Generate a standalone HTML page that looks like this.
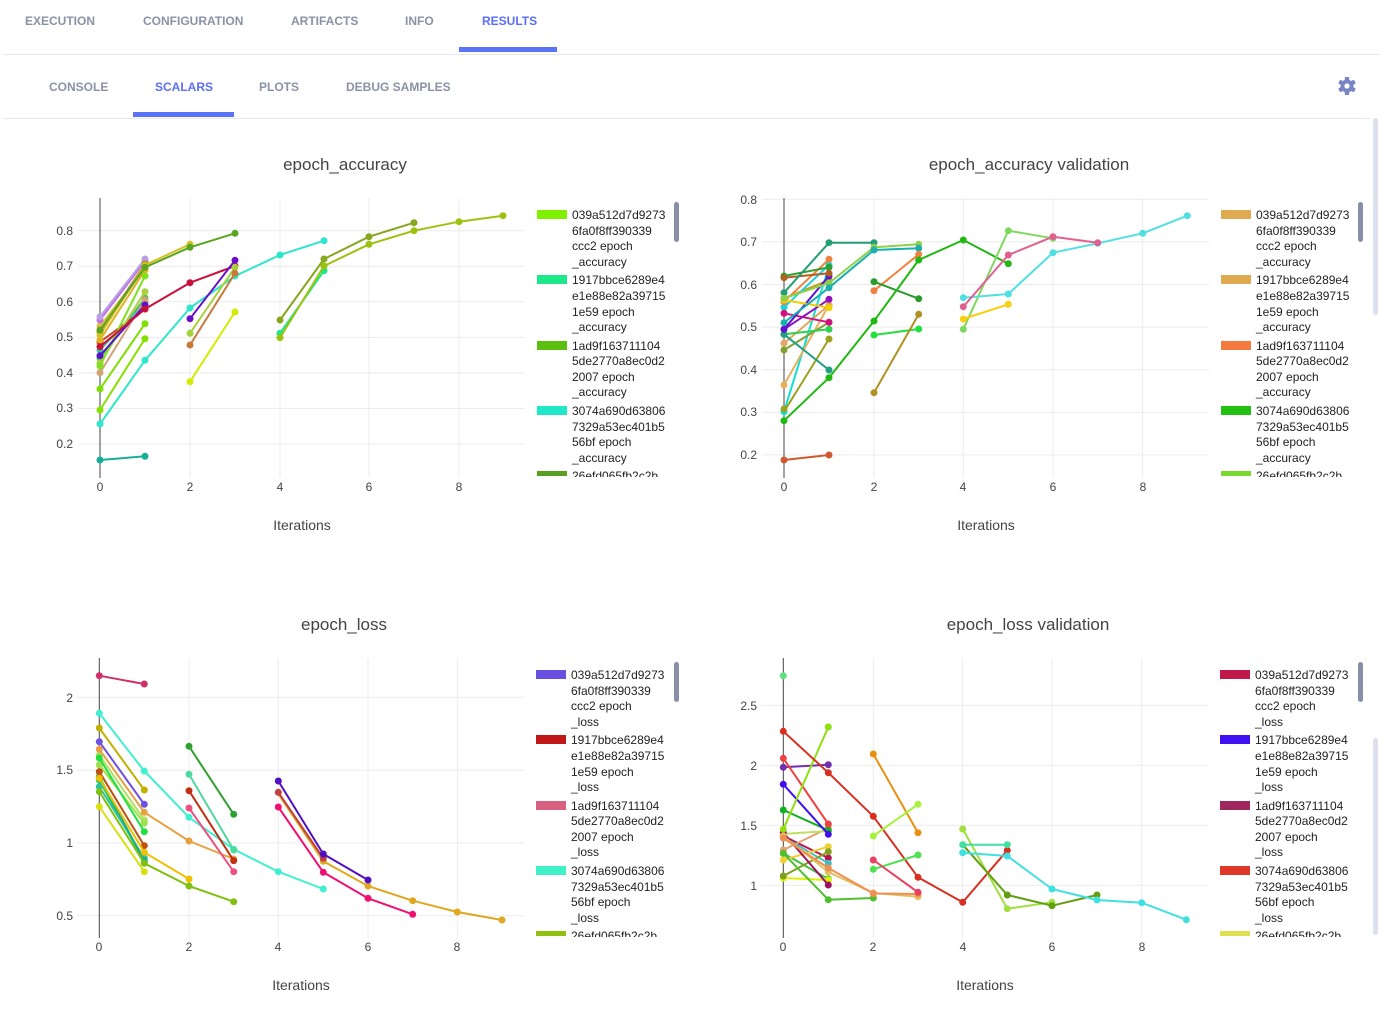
<!DOCTYPE html>
<html><head><meta charset="utf-8"><style>
html,body{margin:0;padding:0;background:#fff;width:1383px;height:1032px;overflow:hidden}
svg{display:block}
.nav{font-family:"Liberation Sans",Arial,sans-serif;font-weight:bold;font-size:12px;fill:#8a92a6}
.nav.a{fill:#5b6ef5}
.t{font-family:"Liberation Sans",Arial,sans-serif;fill:#444}
.tk{font-size:12px}
.lg{font-family:"Liberation Sans",Arial,sans-serif;font-size:12px;fill:#222}
.s polyline{fill:none;stroke-width:2;stroke-linejoin:round}
.s circle{stroke:none}
.g{stroke:#ececec;stroke-width:1}
</style></head><body>
<svg width="1383" height="1032" viewBox="0 0 1383 1032" xmlns="http://www.w3.org/2000/svg">
<!-- nav -->
<text class="nav" x="25" y="25">EXECUTION</text>
<text class="nav" x="143" y="25">CONFIGURATION</text>
<text class="nav" x="291" y="25">ARTIFACTS</text>
<text class="nav" x="405" y="25">INFO</text>
<text class="nav a" x="482" y="25">RESULTS</text>
<rect x="459" y="47" width="98" height="5" fill="#5a74f8"/>
<rect x="3" y="54" width="1377" height="1" fill="#e8e8ec"/>
<text class="nav" x="49" y="91">CONSOLE</text>
<text class="nav a" x="155" y="91">SCALARS</text>
<text class="nav" x="259" y="91">PLOTS</text>
<text class="nav" x="346" y="91">DEBUG SAMPLES</text>
<rect x="133" y="112" width="101" height="5" fill="#5a74f8"/>
<rect x="3" y="118" width="1368" height="1" fill="#e8e8ec"/>
<!-- gear -->
<g transform="translate(1347,86)" fill="#7884c4">
<circle r="6.5"/>
<rect x="-2.2" y="-9" width="4.4" height="18" rx="0.8"/>
<rect x="-2.2" y="-9" width="4.4" height="18" rx="0.8" transform="rotate(60)"/>
<rect x="-2.2" y="-9" width="4.4" height="18" rx="0.8" transform="rotate(120)"/>
<circle r="2.6" fill="#fff"/>
</g>
<!-- page scrollbars -->
<rect x="1373" y="118" width="5" height="197" rx="2.5" fill="#dde0ee"/>
<rect x="1373" y="738" width="5" height="197" rx="2.5" fill="#dde0ee"/>

<!-- ================= CHART 1 ================= -->
<text class="t" x="345" y="170" font-size="17" text-anchor="middle">epoch_accuracy</text>
<g class="g">
<line x1="78" y1="230.7" x2="525" y2="230.7"/><line x1="78" y1="266.2" x2="525" y2="266.2"/><line x1="78" y1="301.8" x2="525" y2="301.8"/><line x1="78" y1="337.4" x2="525" y2="337.4"/><line x1="78" y1="372.9" x2="525" y2="372.9"/><line x1="78" y1="408.5" x2="525" y2="408.5"/><line x1="78" y1="444" x2="525" y2="444"/>
<line x1="190" y1="198" x2="190" y2="478"/><line x1="280" y1="198" x2="280" y2="478"/><line x1="369" y1="198" x2="369" y2="478"/><line x1="459" y1="198" x2="459" y2="478"/>
</g>
<line x1="100" y1="198" x2="100" y2="478" stroke="#444" stroke-width="1"/>
<g class="t tk" text-anchor="end">
<text x="73" y="235">0.8</text><text x="73" y="270">0.7</text><text x="73" y="306">0.6</text><text x="73" y="341">0.5</text><text x="73" y="377">0.4</text><text x="73" y="412">0.3</text><text x="73" y="448">0.2</text>
</g>
<g class="t tk" text-anchor="middle">
<text x="100" y="491">0</text><text x="190" y="491">2</text><text x="280" y="491">4</text><text x="369" y="491">6</text><text x="459" y="491">8</text>
</g>
<text class="t" x="302" y="530" font-size="14" text-anchor="middle">Iterations</text>
<g class="s" stroke="#e0c040" fill="#e0c040"><polyline points="100,326 145,268"/><circle cx="100" cy="326" r="3.5"/><circle cx="145" cy="268" r="3.5"/></g>
<g class="s" stroke="#50c050" fill="#50c050"><polyline points="100,358 145,298"/><circle cx="100" cy="358" r="3.5"/><circle cx="145" cy="298" r="3.5"/></g>
<g class="s" stroke="#40c0a0" fill="#40c0a0"><polyline points="100,350 145,302"/><circle cx="100" cy="350" r="3.5"/><circle cx="145" cy="302" r="3.5"/></g>
<g class="s" stroke="#d04020" fill="#d04020"><polyline points="100,342 145,309"/><circle cx="100" cy="342" r="3.5"/><circle cx="145" cy="309" r="3.5"/></g>
<g class="s" stroke="#e0b020" fill="#e0b020"><polyline points="100,340 145,270"/><circle cx="100" cy="340" r="3.5"/><circle cx="145" cy="270" r="3.5"/></g>
<g class="s" stroke="#c070e0" fill="#c070e0"><polyline points="100,320 145,261"/><circle cx="100" cy="320" r="3.5"/><circle cx="145" cy="261" r="3.5"/></g>
<g class="s" stroke="#b9a0e6" fill="#b9a0e6"><polyline points="100,316.7 145,259"/><circle cx="100" cy="316.7" r="3.5"/><circle cx="145" cy="259" r="3.5"/></g>
<g class="s" stroke="#a8d040" fill="#a8d040"><polyline points="100,363 145,291.7"/><circle cx="100" cy="363" r="3.5"/><circle cx="145" cy="291.7" r="3.5"/></g>
<g class="s" stroke="#d4a373" fill="#d4a373"><polyline points="100,372.7 145,300"/><circle cx="100" cy="372.7" r="3.5"/><circle cx="145" cy="300" r="3.5"/></g>
<g class="s" stroke="#80e020" fill="#80e020"><polyline points="100,366 145,276"/><circle cx="100" cy="366" r="3.5"/><circle cx="145" cy="276" r="3.5"/></g>
<g class="s" stroke="#a8781e" fill="#a8781e"><polyline points="100,331.7 145,264"/><circle cx="100" cy="331.7" r="3.5"/><circle cx="145" cy="264" r="3.5"/></g>
<g class="s" stroke="#7de000" fill="#7de000"><polyline points="100,389 145,323.7"/><circle cx="100" cy="389" r="3.5"/><circle cx="145" cy="323.7" r="3.5"/></g>
<g class="s" stroke="#86e000" fill="#86e000"><polyline points="100,410 145,338.7"/><circle cx="100" cy="410" r="3.5"/><circle cx="145" cy="338.7" r="3.5"/></g>
<g class="s" stroke="#5a10d0" fill="#5a10d0"><polyline points="100,355.7 145,305"/><circle cx="100" cy="355.7" r="3.5"/><circle cx="145" cy="305" r="3.5"/></g>
<g class="s" stroke="#17ae98" fill="#17ae98"><polyline points="100,460 145,456.3"/><circle cx="100" cy="460" r="3.5"/><circle cx="145" cy="456.3" r="3.5"/></g>
<g class="s" stroke="#d4c020" fill="#d4c020"><polyline points="100,335 145,265 190,244.3"/><circle cx="100" cy="335" r="3.5"/><circle cx="145" cy="265" r="3.5"/><circle cx="190" cy="244.3" r="3.5"/></g>
<g class="s" stroke="#5aa620" fill="#5aa620"><polyline points="100,330 145,267.3 190,247.3 235,233.3"/><circle cx="100" cy="330" r="3.5"/><circle cx="145" cy="267.3" r="3.5"/><circle cx="190" cy="247.3" r="3.5"/><circle cx="235" cy="233.3" r="3.5"/></g>
<g class="s" stroke="#c8103c" fill="#c8103c"><polyline points="100,346.7 145,309 190,282.7 235,266"/><circle cx="100" cy="346.7" r="3.5"/><circle cx="145" cy="309" r="3.5"/><circle cx="190" cy="282.7" r="3.5"/><circle cx="235" cy="266" r="3.5"/></g>
<g class="s" stroke="#2ee6cc" fill="#2ee6cc"><polyline points="100,424 145,360.3 190,308 235,276 280,255 324,240.7"/><circle cx="100" cy="424" r="3.5"/><circle cx="145" cy="360.3" r="3.5"/><circle cx="190" cy="308" r="3.5"/><circle cx="235" cy="276" r="3.5"/><circle cx="280" cy="255" r="3.5"/><circle cx="324" cy="240.7" r="3.5"/></g>
<g class="s" stroke="#6a0dc8" fill="#6a0dc8"><polyline points="190,318.7 235,260.3"/><circle cx="190" cy="318.7" r="3.5"/><circle cx="235" cy="260.3" r="3.5"/></g>
<g class="s" stroke="#a6d13a" fill="#a6d13a"><polyline points="190,333.3 235,267.3"/><circle cx="190" cy="333.3" r="3.5"/><circle cx="235" cy="267.3" r="3.5"/></g>
<g class="s" stroke="#c87a3c" fill="#c87a3c"><polyline points="190,345 235,273.3"/><circle cx="190" cy="345" r="3.5"/><circle cx="235" cy="273.3" r="3.5"/></g>
<g class="s" stroke="#d4ea00" fill="#d4ea00"><polyline points="190,381.7 235,312"/><circle cx="190" cy="381.7" r="3.5"/><circle cx="235" cy="312" r="3.5"/></g>
<g class="s" stroke="#88a620" fill="#88a620"><polyline points="280,320 324,259 369,236.7 414,222.7"/><circle cx="280" cy="320" r="3.5"/><circle cx="324" cy="259" r="3.5"/><circle cx="369" cy="236.7" r="3.5"/><circle cx="414" cy="222.7" r="3.5"/></g>
<g class="s" stroke="#1de887" fill="#1de887"><polyline points="280,333.3 324,270.7"/><circle cx="280" cy="333.3" r="3.5"/><circle cx="324" cy="270.7" r="3.5"/></g>
<g class="s" stroke="#9dc10f" fill="#9dc10f"><polyline points="280,337.7 324,266 369,244.3 414,230.7 459,221.7 503,215.7"/><circle cx="280" cy="337.7" r="3.5"/><circle cx="324" cy="266" r="3.5"/><circle cx="369" cy="244.3" r="3.5"/><circle cx="414" cy="230.7" r="3.5"/><circle cx="459" cy="221.7" r="3.5"/><circle cx="503" cy="215.7" r="3.5"/></g>
<!-- legend 1 -->
<g>
<rect x="537" y="210" width="30" height="9" fill="#7ff000"/>
<text class="lg" x="572" y="219">039a512d7d9273</text><text class="lg" x="572" y="235">6fa0f8ff390339</text><text class="lg" x="572" y="250">ccc2 epoch</text><text class="lg" x="572" y="266">_accuracy</text>
<rect x="537" y="275" width="30" height="9" fill="#1de88a"/>
<text class="lg" x="572" y="284">1917bbce6289e4</text><text class="lg" x="572" y="300">e1e88e82a39715</text><text class="lg" x="572" y="316">1e59 epoch</text><text class="lg" x="572" y="331">_accuracy</text>
<rect x="537" y="341" width="30" height="9" fill="#5cbf10"/>
<text class="lg" x="572" y="350">1ad9f163711104</text><text class="lg" x="572" y="365">5de2770a8ec0d2</text><text class="lg" x="572" y="381">2007 epoch</text><text class="lg" x="572" y="396">_accuracy</text>
<rect x="537" y="406" width="30" height="9" fill="#1ee8c8"/>
<text class="lg" x="572" y="415">3074a690d63806</text><text class="lg" x="572" y="431">7329a53ec401b5</text><text class="lg" x="572" y="446">56bf epoch</text><text class="lg" x="572" y="462">_accuracy</text>
<rect x="537" y="471" width="30" height="5" fill="#5aa020"/>
<text class="lg" x="572" y="480" clip-path="inset(0 0 6px 0)">26efd065fb2c2b</text>
<rect x="530" y="477" width="150" height="10" fill="#fff"/>
</g>
<rect x="674" y="202" width="5" height="40" rx="2.5" fill="#8790a8"/>

<!-- ================= CHART 2 ================= -->
<text class="t" x="1029" y="170" font-size="17" text-anchor="middle">epoch_accuracy validation</text>
<g class="g">
<line x1="762" y1="199.3" x2="1209" y2="199.3"/><line x1="762" y1="241.9" x2="1209" y2="241.9"/><line x1="762" y1="284.5" x2="1209" y2="284.5"/><line x1="762" y1="327.1" x2="1209" y2="327.1"/><line x1="762" y1="369.7" x2="1209" y2="369.7"/><line x1="762" y1="412.3" x2="1209" y2="412.3"/><line x1="762" y1="454.9" x2="1209" y2="454.9"/>
<line x1="874" y1="198" x2="874" y2="478"/><line x1="963.3" y1="198" x2="963.3" y2="478"/><line x1="1053" y1="198" x2="1053" y2="478"/><line x1="1142.7" y1="198" x2="1142.7" y2="478"/>
</g>
<line x1="784" y1="198" x2="784" y2="478" stroke="#444" stroke-width="1"/>
<g class="t tk" text-anchor="end">
<text x="757" y="204">0.8</text><text x="757" y="246">0.7</text><text x="757" y="289">0.6</text><text x="757" y="331">0.5</text><text x="757" y="374">0.4</text><text x="757" y="416">0.3</text><text x="757" y="459">0.2</text>
</g>
<g class="t tk" text-anchor="middle">
<text x="784" y="491">0</text><text x="874" y="491">2</text><text x="963" y="491">4</text><text x="1053" y="491">6</text><text x="1143" y="491">8</text>
</g>
<text class="t" x="986" y="530" font-size="14" text-anchor="middle">Iterations</text>
<g class="s" stroke="#c0a020" fill="#c0a020"><polyline points="784,298.3 829,280"/><circle cx="784" cy="298.3" r="3.5"/><circle cx="829" cy="280" r="3.5"/></g>
<g class="s" stroke="#20d0e0" fill="#20d0e0"><polyline points="784,307.3 829,265"/><circle cx="784" cy="307.3" r="3.5"/><circle cx="829" cy="265" r="3.5"/></g>
<g class="s" stroke="#10e0d0" fill="#10e0d0"><polyline points="784,411.7 829,266"/><circle cx="784" cy="411.7" r="3.5"/><circle cx="829" cy="266" r="3.5"/></g>
<g class="s" stroke="#a0a020" fill="#a0a020"><polyline points="784,411.7 829,339"/><circle cx="784" cy="409" r="3.5"/><circle cx="829" cy="339" r="3.5"/></g>
<g class="s" stroke="#e8b060" fill="#e8b060"><polyline points="784,385 829,305"/><circle cx="784" cy="385" r="3.5"/><circle cx="829" cy="305" r="3.5"/></g>
<g class="s" stroke="#e0a860" fill="#e0a860"><polyline points="784,343.3 829,305"/><circle cx="784" cy="343.3" r="3.5"/><circle cx="829" cy="305" r="3.5"/></g>
<g class="s" stroke="#80a030" fill="#80a030"><polyline points="784,350 829,322.3"/><circle cx="784" cy="350" r="3.5"/><circle cx="829" cy="322.3" r="3.5"/></g>
<g class="s" stroke="#30d050" fill="#30d050"><polyline points="784,334.3 829,329.3"/><circle cx="784" cy="334.3" r="3.5"/><circle cx="829" cy="329.3" r="3.5"/></g>
<g class="s" stroke="#20a080" fill="#20a080"><polyline points="784,334.3 829,370"/><circle cx="784" cy="334.3" r="3.5"/><circle cx="829" cy="370" r="3.5"/></g>
<g class="s" stroke="#d01080" fill="#d01080"><polyline points="784,313.3 829,322.3"/><circle cx="784" cy="313.3" r="3.5"/><circle cx="829" cy="322.3" r="3.5"/></g>
<g class="s" stroke="#9010c0" fill="#9010c0"><polyline points="784,329.3 829,299.3"/><circle cx="784" cy="329.3" r="3.5"/><circle cx="829" cy="299.3" r="3.5"/></g>
<g class="s" stroke="#6010d0" fill="#6010d0"><polyline points="784,329.3 829,276"/><circle cx="784" cy="329.3" r="3.5"/><circle cx="829" cy="276" r="3.5"/></g>
<g class="s" stroke="#f08040" fill="#f08040"><polyline points="784,301.7 829,259.3"/><circle cx="784" cy="301.7" r="3.5"/><circle cx="829" cy="259.3" r="3.5"/></g>
<g class="s" stroke="#30a030" fill="#30a030"><polyline points="784,276 829,267.3"/><circle cx="784" cy="276" r="3.5"/><circle cx="829" cy="267.3" r="3.5"/></g>
<g class="s" stroke="#b06020" fill="#b06020"><polyline points="784,277.7 829,273.3"/><circle cx="784" cy="277.7" r="3.5"/><circle cx="829" cy="273.3" r="3.5"/></g>
<g class="s" stroke="#f0d000" fill="#f0d000"><polyline points="784,300 829,307.7"/><circle cx="784" cy="300" r="3.5"/><circle cx="829" cy="307.7" r="3.5"/></g>
<g class="s" stroke="#d05a30" fill="#d05a30"><polyline points="784,460 829,455"/><circle cx="784" cy="460" r="3.5"/><circle cx="829" cy="455" r="3.5"/></g>
<g class="s" stroke="#239e76" fill="#239e76"><polyline points="784,292.7 829,242.7 874,242.7"/><circle cx="784" cy="292.7" r="3.5"/><circle cx="829" cy="242.7" r="3.5"/><circle cx="874" cy="242.7" r="3.5"/></g>
<g class="s" stroke="#8ed04a" fill="#8ed04a"><polyline points="784,298.3 829,283 874,247.3 918.7,244.3"/><circle cx="784" cy="298.3" r="3.5"/><circle cx="829" cy="283" r="3.5"/><circle cx="874" cy="247.3" r="3.5"/><circle cx="918.7" cy="244.3" r="3.5"/></g>
<g class="s" stroke="#1ab0b0" fill="#1ab0b0"><polyline points="784,322.7 829,287.7 874,250 918.7,248.3"/><circle cx="784" cy="322.7" r="3.5"/><circle cx="829" cy="287.7" r="3.5"/><circle cx="874" cy="250" r="3.5"/><circle cx="918.7" cy="248.3" r="3.5"/></g>
<g class="s" stroke="#f08040" fill="#f08040"><polyline points="874,290.7 918.7,254.3"/><circle cx="874" cy="290.7" r="3.5"/><circle cx="918.7" cy="254.3" r="3.5"/></g>
<g class="s" stroke="#2a9a2a" fill="#2a9a2a"><polyline points="874,281.7 918.7,298.7"/><circle cx="874" cy="281.7" r="3.5"/><circle cx="918.7" cy="298.7" r="3.5"/></g>
<g class="s" stroke="#22e040" fill="#22e040"><polyline points="874,335 918.7,329"/><circle cx="874" cy="335" r="3.5"/><circle cx="918.7" cy="329" r="3.5"/></g>
<g class="s" stroke="#b09020" fill="#b09020"><polyline points="874,392.7 918.7,314.3"/><circle cx="874" cy="392.7" r="3.5"/><circle cx="918.7" cy="314.3" r="3.5"/></g>
<g class="s" stroke="#22b814" fill="#22b814"><polyline points="784,420.7 829,377.7 874,321 918.7,260 963.3,240 1008.3,263.7"/><circle cx="784" cy="420.7" r="3.5"/><circle cx="829" cy="377.7" r="3.5"/><circle cx="874" cy="321" r="3.5"/><circle cx="918.7" cy="260" r="3.5"/><circle cx="963.3" cy="240" r="3.5"/><circle cx="1008.3" cy="263.7" r="3.5"/></g>
<g class="s" stroke="#80d860" fill="#80d860"><polyline points="963.3,329.3 1008.3,230.7 1053,238.3"/><circle cx="963.3" cy="329.3" r="3.5"/><circle cx="1008.3" cy="230.7" r="3.5"/><circle cx="1053" cy="238.3" r="3.5"/></g>
<g class="s" stroke="#f8d010" fill="#f8d010"><polyline points="963.3,319 1008.3,304.3"/><circle cx="963.3" cy="319" r="3.5"/><circle cx="1008.3" cy="304.3" r="3.5"/></g>
<g class="s" stroke="#50e0e0" fill="#50e0e0"><polyline points="963.3,297.7 1008.3,294 1053,252.7 1097.7,243.3 1142.7,233.3 1187.3,215.7"/><circle cx="963.3" cy="297.7" r="3.5"/><circle cx="1008.3" cy="294" r="3.5"/><circle cx="1053" cy="252.7" r="3.5"/><circle cx="1097.7" cy="243.3" r="3.5"/><circle cx="1142.7" cy="233.3" r="3.5"/><circle cx="1187.3" cy="215.7" r="3.5"/></g>
<g class="s" stroke="#e06090" fill="#e06090"><polyline points="963.3,306.7 1008.3,255 1053,236.7 1097.7,242.7"/><circle cx="963.3" cy="306.7" r="3.5"/><circle cx="1008.3" cy="255" r="3.5"/><circle cx="1053" cy="236.7" r="3.5"/><circle cx="1097.7" cy="242.7" r="3.5"/></g>
<!-- legend 2 -->
<g>
<rect x="1221" y="210" width="30" height="9" fill="#e0aa50"/>
<text class="lg" x="1256" y="219">039a512d7d9273</text><text class="lg" x="1256" y="235">6fa0f8ff390339</text><text class="lg" x="1256" y="250">ccc2 epoch</text><text class="lg" x="1256" y="266">_accuracy</text>
<rect x="1221" y="275" width="30" height="9" fill="#e0aa50"/>
<text class="lg" x="1256" y="284">1917bbce6289e4</text><text class="lg" x="1256" y="300">e1e88e82a39715</text><text class="lg" x="1256" y="316">1e59 epoch</text><text class="lg" x="1256" y="331">_accuracy</text>
<rect x="1221" y="341" width="30" height="9" fill="#f57a40"/>
<text class="lg" x="1256" y="350">1ad9f163711104</text><text class="lg" x="1256" y="365">5de2770a8ec0d2</text><text class="lg" x="1256" y="381">2007 epoch</text><text class="lg" x="1256" y="396">_accuracy</text>
<rect x="1221" y="406" width="30" height="9" fill="#22c010"/>
<text class="lg" x="1256" y="415">3074a690d63806</text><text class="lg" x="1256" y="431">7329a53ec401b5</text><text class="lg" x="1256" y="446">56bf epoch</text><text class="lg" x="1256" y="462">_accuracy</text>
<rect x="1221" y="471" width="30" height="5" fill="#7ad830"/>
<text class="lg" x="1256" y="480">26efd065fb2c2b</text>
<rect x="1214" y="477" width="150" height="10" fill="#fff"/>
</g>
<rect x="1358" y="202" width="5" height="40" rx="2.5" fill="#8790a8"/>

<!-- ================= CHART 3 ================= -->
<text class="t" x="344" y="630" font-size="17" text-anchor="middle">epoch_loss</text>
<g class="g">
<line x1="77" y1="697.3" x2="524" y2="697.3"/><line x1="77" y1="770.1" x2="524" y2="770.1"/><line x1="77" y1="842.9" x2="524" y2="842.9"/><line x1="77" y1="915.7" x2="524" y2="915.7"/>
<line x1="189" y1="658" x2="189" y2="938"/><line x1="278.3" y1="658" x2="278.3" y2="938"/><line x1="368" y1="658" x2="368" y2="938"/><line x1="457.3" y1="658" x2="457.3" y2="938"/>
</g>
<line x1="99.3" y1="658" x2="99.3" y2="938" stroke="#444" stroke-width="1"/>
<g class="t tk" text-anchor="end">
<text x="73" y="702">2</text><text x="73" y="774">1.5</text><text x="73" y="847">1</text><text x="73" y="920">0.5</text>
</g>
<g class="t tk" text-anchor="middle">
<text x="99" y="951">0</text><text x="189" y="951">2</text><text x="278" y="951">4</text><text x="368" y="951">6</text><text x="457" y="951">8</text>
</g>
<text class="t" x="301" y="990" font-size="14" text-anchor="middle">Iterations</text>
<g class="s" stroke="#10d060" fill="#10d060"><polyline points="99.3,780 144.3,862"/><circle cx="99.3" cy="780" r="3.5"/><circle cx="144.3" cy="862" r="3.5"/></g>
<g class="s" stroke="#b0e060" fill="#b0e060"><polyline points="99.3,755 144.3,820"/><circle cx="99.3" cy="755" r="3.5"/><circle cx="144.3" cy="820" r="3.5"/></g>
<g class="s" stroke="#a0e050" fill="#a0e050"><polyline points="99.3,765 144.3,823.3"/><circle cx="99.3" cy="765" r="3.5"/><circle cx="144.3" cy="823.3" r="3.5"/></g>
<g class="s" stroke="#30c0a0" fill="#30c0a0"><polyline points="99.3,786.7 144.3,858"/><circle cx="99.3" cy="786.7" r="3.5"/><circle cx="144.3" cy="858" r="3.5"/></g>
<g class="s" stroke="#20b080" fill="#20b080"><polyline points="99.3,776.7 144.3,861"/><circle cx="99.3" cy="776.7" r="3.5"/><circle cx="144.3" cy="861" r="3.5"/></g>
<g class="s" stroke="#20e040" fill="#20e040"><polyline points="99.3,758 144.3,831.7"/><circle cx="99.3" cy="758" r="3.5"/><circle cx="144.3" cy="831.7" r="3.5"/></g>
<g class="s" stroke="#c05010" fill="#c05010"><polyline points="99.3,771.7 144.3,845.7"/><circle cx="99.3" cy="771.7" r="3.5"/><circle cx="144.3" cy="845.7" r="3.5"/></g>
<g class="s" stroke="#d8e010" fill="#d8e010"><polyline points="99.3,806.7 144.3,871.7"/><circle cx="99.3" cy="806.7" r="3.5"/><circle cx="144.3" cy="871.7" r="3.5"/></g>
<g class="s" stroke="#7050e0" fill="#7050e0"><polyline points="99.3,741.7 144.3,804.3"/><circle cx="99.3" cy="741.7" r="3.5"/><circle cx="144.3" cy="804.3" r="3.5"/></g>
<g class="s" stroke="#c0b000" fill="#c0b000"><polyline points="99.3,728 144.3,790"/><circle cx="99.3" cy="728" r="3.5"/><circle cx="144.3" cy="790" r="3.5"/></g>
<g class="s" stroke="#d0306a" fill="#d0306a"><polyline points="99.3,675.7 144.3,684"/><circle cx="99.3" cy="675.7" r="3.5"/><circle cx="144.3" cy="684" r="3.5"/></g>
<g class="s" stroke="#f0c000" fill="#f0c000"><polyline points="99.3,778.3 144.3,852.3 189,879"/><circle cx="99.3" cy="778.3" r="3.5"/><circle cx="144.3" cy="852.3" r="3.5"/><circle cx="189" cy="879" r="3.5"/></g>
<g class="s" stroke="#80c010" fill="#80c010"><polyline points="99.3,791.7 144.3,863.3 189,886 233.7,901.7"/><circle cx="99.3" cy="791.7" r="3.5"/><circle cx="144.3" cy="863.3" r="3.5"/><circle cx="189" cy="886" r="3.5"/><circle cx="233.7" cy="901.7" r="3.5"/></g>
<g class="s" stroke="#e8a040" fill="#e8a040"><polyline points="99.3,749.3 144.3,812.3 189,841 233.7,859"/><circle cx="99.3" cy="749.3" r="3.5"/><circle cx="144.3" cy="812.3" r="3.5"/><circle cx="189" cy="841" r="3.5"/><circle cx="233.7" cy="859" r="3.5"/></g>
<g class="s" stroke="#40f0d0" fill="#40f0d0"><polyline points="99.3,713.3 144.3,771 189,817.3 233.7,849.3 278.3,871.7 323.3,889"/><circle cx="99.3" cy="713.3" r="3.5"/><circle cx="144.3" cy="771" r="3.5"/><circle cx="189" cy="817.3" r="3.5"/><circle cx="233.7" cy="849.3" r="3.5"/><circle cx="278.3" cy="871.7" r="3.5"/><circle cx="323.3" cy="889" r="3.5"/></g>
<g class="s" stroke="#30a030" fill="#30a030"><polyline points="189,746.3 233.7,814.3"/><circle cx="189" cy="746.3" r="3.5"/><circle cx="233.7" cy="814.3" r="3.5"/></g>
<g class="s" stroke="#50d8a0" fill="#50d8a0"><polyline points="189,774.3 233.7,850"/><circle cx="189" cy="774.3" r="3.5"/><circle cx="233.7" cy="850" r="3.5"/></g>
<g class="s" stroke="#c03010" fill="#c03010"><polyline points="189,790.7 233.7,860.7"/><circle cx="189" cy="790.7" r="3.5"/><circle cx="233.7" cy="860.7" r="3.5"/></g>
<g class="s" stroke="#f05080" fill="#f05080"><polyline points="189,808 233.7,871.7"/><circle cx="189" cy="808" r="3.5"/><circle cx="233.7" cy="871.7" r="3.5"/></g>
<g class="s" stroke="#e0a820" fill="#e0a820"><polyline points="278.3,794 323.3,861.3 368,886 412.7,900.7 457.3,912 502,920"/><circle cx="323.3" cy="861.3" r="3.5"/><circle cx="368" cy="886" r="3.5"/><circle cx="412.7" cy="900.7" r="3.5"/><circle cx="457.3" cy="912" r="3.5"/><circle cx="502" cy="920" r="3.5"/></g>
<g class="s" stroke="#c04040" fill="#c04040"><polyline points="278.3,792.3 323.3,858.3"/><circle cx="278.3" cy="792.3" r="3.5"/><circle cx="323.3" cy="858.3" r="3.5"/></g>
<g class="s" stroke="#5010c0" fill="#5010c0"><polyline points="278.3,781 323.3,854 368,880"/><circle cx="278.3" cy="781" r="3.5"/><circle cx="323.3" cy="854" r="3.5"/><circle cx="368" cy="880" r="3.5"/></g>
<g class="s" stroke="#f01070" fill="#f01070"><polyline points="278.3,807 323.3,872.3 368,898.3 412.7,914.3"/><circle cx="278.3" cy="807" r="3.5"/><circle cx="323.3" cy="872.3" r="3.5"/><circle cx="368" cy="898.3" r="3.5"/><circle cx="412.7" cy="914.3" r="3.5"/></g>
<!-- legend 3 -->
<g>
<rect x="536" y="670" width="30" height="9" fill="#6a50e0"/>
<text class="lg" x="571" y="679">039a512d7d9273</text><text class="lg" x="571" y="695">6fa0f8ff390339</text><text class="lg" x="571" y="710">ccc2 epoch</text><text class="lg" x="571" y="726">_loss</text>
<rect x="536" y="735" width="30" height="9" fill="#c01818"/>
<text class="lg" x="571" y="744">1917bbce6289e4</text><text class="lg" x="571" y="760">e1e88e82a39715</text><text class="lg" x="571" y="776">1e59 epoch</text><text class="lg" x="571" y="791">_loss</text>
<rect x="536" y="801" width="30" height="9" fill="#d86080"/>
<text class="lg" x="571" y="810">1ad9f163711104</text><text class="lg" x="571" y="825">5de2770a8ec0d2</text><text class="lg" x="571" y="841">2007 epoch</text><text class="lg" x="571" y="856">_loss</text>
<rect x="536" y="866" width="30" height="9" fill="#40f0c8"/>
<text class="lg" x="571" y="875">3074a690d63806</text><text class="lg" x="571" y="891">7329a53ec401b5</text><text class="lg" x="571" y="906">56bf epoch</text><text class="lg" x="571" y="922">_loss</text>
<rect x="536" y="931" width="30" height="5" fill="#90c010"/>
<text class="lg" x="571" y="940">26efd065fb2c2b</text>
<rect x="529" y="937" width="150" height="10" fill="#fff"/>
</g>
<rect x="674" y="662" width="5" height="40" rx="2.5" fill="#8790a8"/>

<!-- ================= CHART 4 ================= -->
<text class="t" x="1028" y="630" font-size="17" text-anchor="middle">epoch_loss validation</text>
<g class="g">
<line x1="761" y1="705.3" x2="1208" y2="705.3"/><line x1="761" y1="765.3" x2="1208" y2="765.3"/><line x1="761" y1="825.3" x2="1208" y2="825.3"/><line x1="761" y1="885.3" x2="1208" y2="885.3"/>
<line x1="873.3" y1="658" x2="873.3" y2="938"/><line x1="962.7" y1="658" x2="962.7" y2="938"/><line x1="1052" y1="658" x2="1052" y2="938"/><line x1="1141.7" y1="658" x2="1141.7" y2="938"/>
</g>
<line x1="783.3" y1="658" x2="783.3" y2="938" stroke="#444" stroke-width="1"/>
<g class="t tk" text-anchor="end">
<text x="757" y="710">2.5</text><text x="757" y="770">2</text><text x="757" y="830">1.5</text><text x="757" y="890">1</text>
</g>
<g class="t tk" text-anchor="middle">
<text x="783" y="951">0</text><text x="873" y="951">2</text><text x="963" y="951">4</text><text x="1052" y="951">6</text><text x="1142" y="951">8</text>
</g>
<text class="t" x="985" y="990" font-size="14" text-anchor="middle">Iterations</text>
<g class="s" stroke="#c01050" fill="#c01050"><polyline points="783.3,836 828.3,858"/><circle cx="783.3" cy="836" r="3.5"/><circle cx="828.3" cy="858" r="3.5"/></g>
<g class="s" stroke="#40c0c0" fill="#40c0c0"><polyline points="783.3,836.7 828.3,863.3"/><circle cx="783.3" cy="836.7" r="3.5"/><circle cx="828.3" cy="863.3" r="3.5"/></g>
<g class="s" stroke="#40c040" fill="#40c040"><polyline points="783.3,853.3 828.3,879"/><circle cx="783.3" cy="853.3" r="3.5"/><circle cx="828.3" cy="879" r="3.5"/></g>
<g class="s" stroke="#e0a070" fill="#e0a070"><polyline points="783.3,850 828.3,828"/><circle cx="783.3" cy="850" r="3.5"/><circle cx="828.3" cy="828" r="3.5"/></g>
<g class="s" stroke="#c0e060" fill="#c0e060"><polyline points="783.3,834 828.3,831"/><circle cx="783.3" cy="834" r="3.5"/><circle cx="828.3" cy="831" r="3.5"/></g>
<g class="s" stroke="#f0d030" fill="#f0d030"><polyline points="783.3,860 828.3,846.7"/><circle cx="783.3" cy="860" r="3.5"/><circle cx="828.3" cy="846.7" r="3.5"/></g>
<g class="s" stroke="#e0f000" fill="#e0f000"><polyline points="783.3,878 828.3,880"/><circle cx="783.3" cy="878" r="3.5"/><circle cx="828.3" cy="880" r="3.5"/></g>
<g class="s" stroke="#80a020" fill="#80a020"><polyline points="783.3,876 828.3,851.7"/><circle cx="783.3" cy="876" r="3.5"/><circle cx="828.3" cy="851.7" r="3.5"/></g>
<g class="s" stroke="#a01060" fill="#a01060"><polyline points="783.3,832.7 828.3,885"/><circle cx="783.3" cy="832.7" r="3.5"/><circle cx="828.3" cy="885" r="3.5"/></g>
<g class="s" stroke="#10b020" fill="#10b020"><polyline points="783.3,810 828.3,830.3"/><circle cx="783.3" cy="810" r="3.5"/><circle cx="828.3" cy="830.3" r="3.5"/></g>
<g class="s" stroke="#4010f0" fill="#4010f0"><polyline points="783.3,784.3 828.3,834.3"/><circle cx="783.3" cy="784.3" r="3.5"/><circle cx="828.3" cy="834.3" r="3.5"/></g>
<g class="s" stroke="#7030b0" fill="#7030b0"><polyline points="783.3,767.3 828.3,764.7"/><circle cx="783.3" cy="767.3" r="3.5"/><circle cx="828.3" cy="764.7" r="3.5"/></g>
<g class="s" stroke="#f04040" fill="#f04040"><polyline points="783.3,758.3 828.3,824"/><circle cx="783.3" cy="758.3" r="3.5"/><circle cx="828.3" cy="824" r="3.5"/></g>
<g class="s" stroke="#90e010" fill="#90e010"><polyline points="783.3,829.3 828.3,727"/><circle cx="783.3" cy="829.3" r="3.5"/><circle cx="828.3" cy="727" r="3.5"/></g>
<g class="s" stroke="#60e080" fill="#60e080"><circle cx="783.3" cy="675.7" r="3.5"/></g>
<g class="s" stroke="#50c030" fill="#50c030"><polyline points="783.3,853.3 828.3,899.7 873.3,898"/><circle cx="783.3" cy="853.3" r="3.5"/><circle cx="828.3" cy="899.7" r="3.5"/><circle cx="873.3" cy="898" r="3.5"/></g>
<g class="s" stroke="#e0c060" fill="#e0c060"><polyline points="783.3,836 828.3,872 873.3,893 918,896.7"/><circle cx="783.3" cy="836" r="3.5"/><circle cx="828.3" cy="872" r="3.5"/><circle cx="873.3" cy="893" r="3.5"/><circle cx="918" cy="896.7" r="3.5"/></g>
<g class="s" stroke="#f09050" fill="#f09050"><polyline points="783.3,838 828.3,868 873.3,893.5 918,894"/><circle cx="783.3" cy="838" r="3.5"/><circle cx="828.3" cy="868" r="3.5"/><circle cx="873.3" cy="893.5" r="3.5"/><circle cx="918" cy="894" r="3.5"/></g>
<g class="s" stroke="#d83020" fill="#d83020"><polyline points="783.3,731.3 828.3,772.7 873.3,816.3 918,877.3 962.7,902.3 1007.3,850.3"/><circle cx="783.3" cy="731.3" r="3.5"/><circle cx="828.3" cy="772.7" r="3.5"/><circle cx="873.3" cy="816.3" r="3.5"/><circle cx="918" cy="877.3" r="3.5"/><circle cx="962.7" cy="902.3" r="3.5"/><circle cx="1007.3" cy="850.3" r="3.5"/></g>
<g class="s" stroke="#e89010" fill="#e89010"><polyline points="873.3,754 918,832.7"/><circle cx="873.3" cy="754" r="3.5"/><circle cx="918" cy="832.7" r="3.5"/></g>
<g class="s" stroke="#a8f040" fill="#a8f040"><polyline points="873.3,836 918,804.3"/><circle cx="873.3" cy="836" r="3.5"/><circle cx="918" cy="804.3" r="3.5"/></g>
<g class="s" stroke="#50e050" fill="#50e050"><polyline points="873.3,869.3 918,855"/><circle cx="873.3" cy="869.3" r="3.5"/><circle cx="918" cy="855" r="3.5"/></g>
<g class="s" stroke="#e84060" fill="#e84060"><polyline points="873.3,860 918,892.3"/><circle cx="873.3" cy="860" r="3.5"/><circle cx="918" cy="892.3" r="3.5"/></g>
<g class="s" stroke="#a0e040" fill="#a0e040"><polyline points="962.7,829 1007.3,908.7 1052,902.3"/><circle cx="962.7" cy="829" r="3.5"/><circle cx="1007.3" cy="908.7" r="3.5"/><circle cx="1052" cy="902.3" r="3.5"/></g>
<g class="s" stroke="#60a010" fill="#60a010"><polyline points="962.7,844.7 1007.3,895 1052,905.7 1097,895"/><circle cx="1007.3" cy="895" r="3.5"/><circle cx="1052" cy="905.7" r="3.5"/><circle cx="1097" cy="895" r="3.5"/></g>
<g class="s" stroke="#40e0e0" fill="#40e0e0"><polyline points="962.7,852.7 1007.3,856 1052,889 1097,900 1141.7,902.7 1186.3,919.7"/><circle cx="962.7" cy="852.7" r="3.5"/><circle cx="1007.3" cy="856" r="3.5"/><circle cx="1052" cy="889" r="3.5"/><circle cx="1097" cy="900" r="3.5"/><circle cx="1141.7" cy="902.7" r="3.5"/><circle cx="1186.3" cy="919.7" r="3.5"/></g>
<g class="s" stroke="#40e0a0" fill="#40e0a0"><polyline points="962.7,844.7 1007.3,844.7"/><circle cx="962.7" cy="844.7" r="3.5"/><circle cx="1007.3" cy="844.7" r="3.5"/></g>
<!-- legend 4 -->
<g>
<rect x="1220" y="670" width="30" height="9" fill="#c01848"/>
<text class="lg" x="1255" y="679">039a512d7d9273</text><text class="lg" x="1255" y="695">6fa0f8ff390339</text><text class="lg" x="1255" y="710">ccc2 epoch</text><text class="lg" x="1255" y="726">_loss</text>
<rect x="1220" y="735" width="30" height="9" fill="#4010f0"/>
<text class="lg" x="1255" y="744">1917bbce6289e4</text><text class="lg" x="1255" y="760">e1e88e82a39715</text><text class="lg" x="1255" y="776">1e59 epoch</text><text class="lg" x="1255" y="791">_loss</text>
<rect x="1220" y="801" width="30" height="9" fill="#a02860"/>
<text class="lg" x="1255" y="810">1ad9f163711104</text><text class="lg" x="1255" y="825">5de2770a8ec0d2</text><text class="lg" x="1255" y="841">2007 epoch</text><text class="lg" x="1255" y="856">_loss</text>
<rect x="1220" y="866" width="30" height="9" fill="#e03828"/>
<text class="lg" x="1255" y="875">3074a690d63806</text><text class="lg" x="1255" y="891">7329a53ec401b5</text><text class="lg" x="1255" y="906">56bf epoch</text><text class="lg" x="1255" y="922">_loss</text>
<rect x="1220" y="931" width="30" height="5" fill="#e0e050"/>
<text class="lg" x="1255" y="940">26efd065fb2c2b</text>
<rect x="1213" y="937" width="150" height="10" fill="#fff"/>
</g>
<rect x="1358" y="662" width="5" height="40" rx="2.5" fill="#8790a8"/>
</svg>
</body></html>
